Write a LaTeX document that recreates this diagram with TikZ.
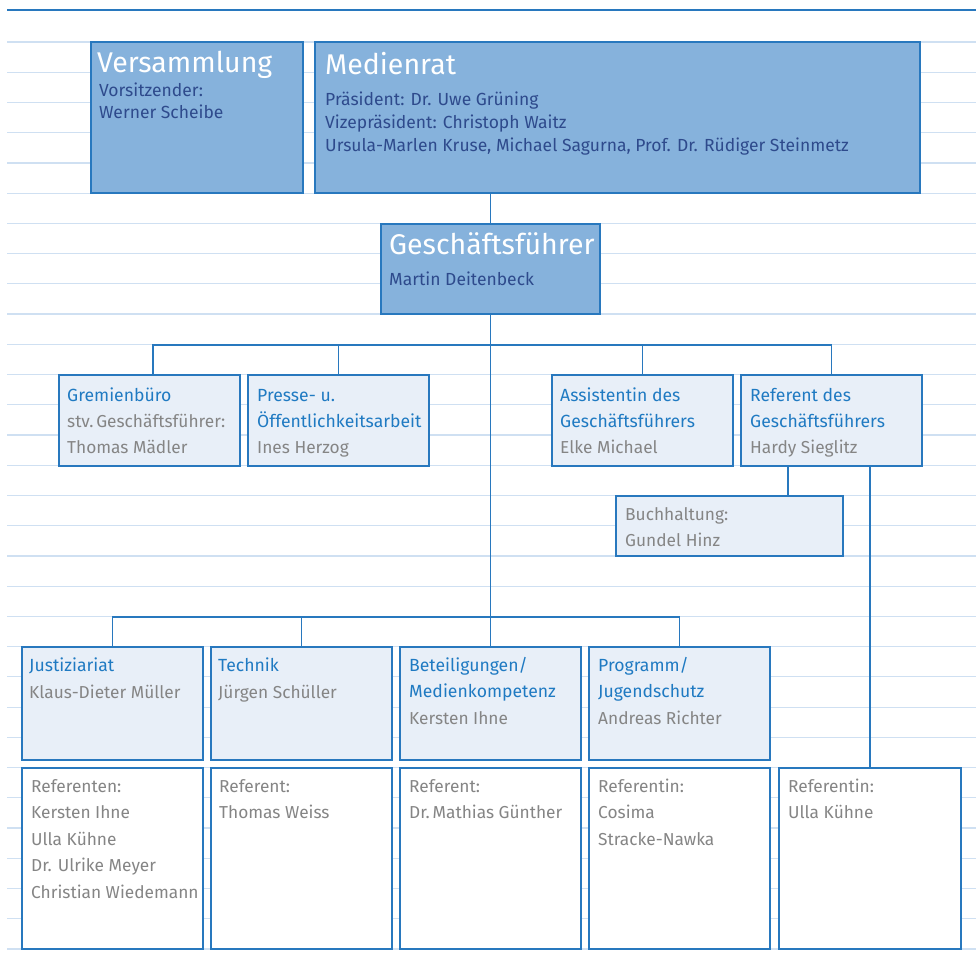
\documentclass[tikz,border=0pt]{standalone}
\usepackage{fontspec}
\setmainfont{Fira Sans}
\usetikzlibrary{calc}

\definecolor{edge}{HTML}{2878BE}
\definecolor{topfill}{HTML}{86B2DC}
\definecolor{lightfill}{HTML}{E8EFF8}
\definecolor{navy}{HTML}{2E4A8C}
\definecolor{titleblue}{HTML}{1F7AC2}
\definecolor{namegray}{HTML}{858585}
\definecolor{ruling}{HTML}{CFE0F2}

\tikzset{
  ruleline/.style={draw=ruling, line width=1.2pt},
  headbar/.style={draw=edge, line width=2.6pt},
  boxbase/.style={draw=edge, line width=1.6pt, inner sep=0pt, outer sep=0pt, anchor=north west},
  topbox/.style={boxbase, fill=topfill},
  lightbox/.style={boxbase, fill=lightfill},
  whitebox/.style={boxbase, fill=white},
  link/.style={draw=edge, line width=1.6pt},
  bigtitle/.style={font=\fontsize{28.5}{31}\selectfont, text=white, inner sep=0pt},
  subtext/.style={font=\fontsize{17.5}{20}\selectfont, text=navy, inner sep=0pt},
  bluetext/.style={font=\fontsize{17.6}{20}\selectfont, text=titleblue, inner sep=0pt},
  graytext/.style={font=\fontsize{17.3}{20}\selectfont, text=namegray, inner sep=0pt},
}

% rectangle given by its corners: name, x1, y1, x2, y2, style
\newcommand\orgbox[6]{%
  \node[#6, minimum width=#4-#2, minimum height=#5-#3] (#1) at (#2,#3) {};}
% lines of text: name, x, first baseline, line step, style, list
\newcommand\textlines[6]{%
  \foreach \s [count=\i from 0] in {#6}
    \node[#5, anchor=base west] (#1-\i) at (#2, #3+\i*#4) {\s};}

\begin{document}
\begin{tikzpicture}[x=1pt, y=-1pt]
\useasboundingbox (0,0) rectangle (976,973);

% ruled background
\draw[headbar] (7,10) -- (976,10);
\foreach \k in {0,...,30}
  \draw[ruleline] (7,42+\k*30.233) -- (976,42+\k*30.233);

% top level
\orgbox{vers}{91}{42}{303}{193}{topbox}
\orgbox{rat}{315}{42}{920}{193}{topbox}
\orgbox{gf}{381}{224}{600}{314}{topbox}

% second level
\orgbox{grem}{59}{375}{240}{466}{lightbox}
\orgbox{presse}{248}{375}{429}{466}{lightbox}
\orgbox{assist}{552}{375}{733}{466}{lightbox}
\orgbox{ref}{741}{375}{922}{466}{lightbox}
\orgbox{buch}{616}{496}{843}{556}{lightbox}

% departments
\orgbox{just}{22}{647}{203}{760}{lightbox}
\orgbox{tech}{211}{647}{392}{760}{lightbox}
\orgbox{bet}{400}{647}{581}{760}{lightbox}
\orgbox{prog}{589}{647}{770}{760}{lightbox}

% staff boxes
\orgbox{justref}{22}{768}{203}{949}{whitebox}
\orgbox{techref}{211}{768}{392}{949}{whitebox}
\orgbox{betref}{400}{768}{581}{949}{whitebox}
\orgbox{progref}{589}{768}{770}{949}{whitebox}
\orgbox{gfref}{779}{768}{961}{949}{whitebox}

% connectors
\coordinate (bus2) at (0,345);
\coordinate (bus3) at (0,617);
\coordinate (gremdrop) at ($(grem.north)+(3.5,0)$);
\draw[link] (rat.south -| gf.north) -- (gf.north);
\draw[link] (gf.south) -- (bet.north);
\draw[link] (gremdrop) |- (bus2 -| ref.north) -- (ref.north);
\draw[link] (presse.north) -- (presse.north |- bus2);
\draw[link] (assist.north) -- (assist.north |- bus2);
\draw[link] (just.north) |- (bus3 -| prog.north) -- (prog.north);
\draw[link] (tech.north) -- (tech.north |- bus3);
\coordinate (buchdrop) at ($(ref.south west)+(47,0)$);
\draw[link] (buchdrop) -- (buchdrop |- buch.north);
\draw[link] (ref.south -| gfref.north) -- (gfref.north);

% texts of the top level
\textlines{versT}{97}{73}{22}{bigtitle}{Versammlung}
\textlines{versS}{99}{97}{22}{subtext}{Vorsitzender:, Werner Scheibe}
\textlines{ratT}{325}{75}{22}{bigtitle}{Medienrat}
\textlines{ratS}{325}{106}{23}{subtext}{Präsident: Dr. Uwe Grüning, Vizepräsident: Christoph Waitz, {Ursula-Marlen Kruse, Michael Sagurna, Prof. Dr. Rüdiger Steinmetz}}
\textlines{gfT}{389}{255}{22}{bigtitle}{Geschäftsführer}
\textlines{gfS}{389}{286}{22}{subtext}{Martin Deitenbeck}

% texts of the second level
\textlines{gremT}{67}{401}{26}{bluetext}{Gremienbüro}
\textlines{gremS}{67}{427}{26}{graytext}{stv.\,Geschäftsführer:, Thomas Mädler}
\textlines{presseT}{257}{401}{26}{bluetext}{Presse- u., Öffentlichkeitsarbeit}
\textlines{presseS}{257}{453}{26}{graytext}{Ines Herzog}
\textlines{assistT}{560}{401}{26}{bluetext}{Assistentin des, Geschäftsführers}
\textlines{assistS}{560}{453}{26}{graytext}{Elke Michael}
\textlines{refT}{750}{401}{26}{bluetext}{Referent des, Geschäftsführers}
\textlines{refS}{750}{453}{26}{graytext}{Hardy Sieglitz}
\textlines{buchS}{625}{520}{26}{graytext}{Buchhaltung:, Gundel Hinz}

% texts of the departments
\textlines{justT}{29}{671}{26.5}{bluetext}{Justiziariat}
\textlines{justS}{29}{698}{26.5}{graytext}{Klaus-Dieter Müller}
\textlines{techT}{218}{671}{26.5}{bluetext}{Technik}
\textlines{techS}{218}{698}{26.5}{graytext}{Jürgen Schüller}
\textlines{betT}{409}{671}{26.5}{bluetext}{Beteiligungen/, Medienkompetenz}
\textlines{betS}{409}{724}{26.5}{graytext}{Kersten Ihne}
\textlines{progT}{598}{671}{26.5}{bluetext}{Programm/, Jugendschutz}
\textlines{progS}{598}{724}{26.5}{graytext}{Andreas Richter}

% texts of the staff boxes
\textlines{justR}{31}{792}{26.5}{graytext}{Referenten:, Kersten Ihne, Ulla Kühne, Dr. Ulrike Meyer, Christian Wiedemann}
\textlines{techR}{219}{792}{26.5}{graytext}{Referent:, Thomas Weiss}
\textlines{betR}{409}{792}{26.5}{graytext}{Referent:, Dr.\,Mathias Günther}
\textlines{progR}{598}{792}{26.5}{graytext}{Referentin:, Cosima, Stracke-Nawka}
\textlines{gfrefR}{788}{792}{26.5}{graytext}{Referentin:, Ulla Kühne}
\end{tikzpicture}
\end{document}
